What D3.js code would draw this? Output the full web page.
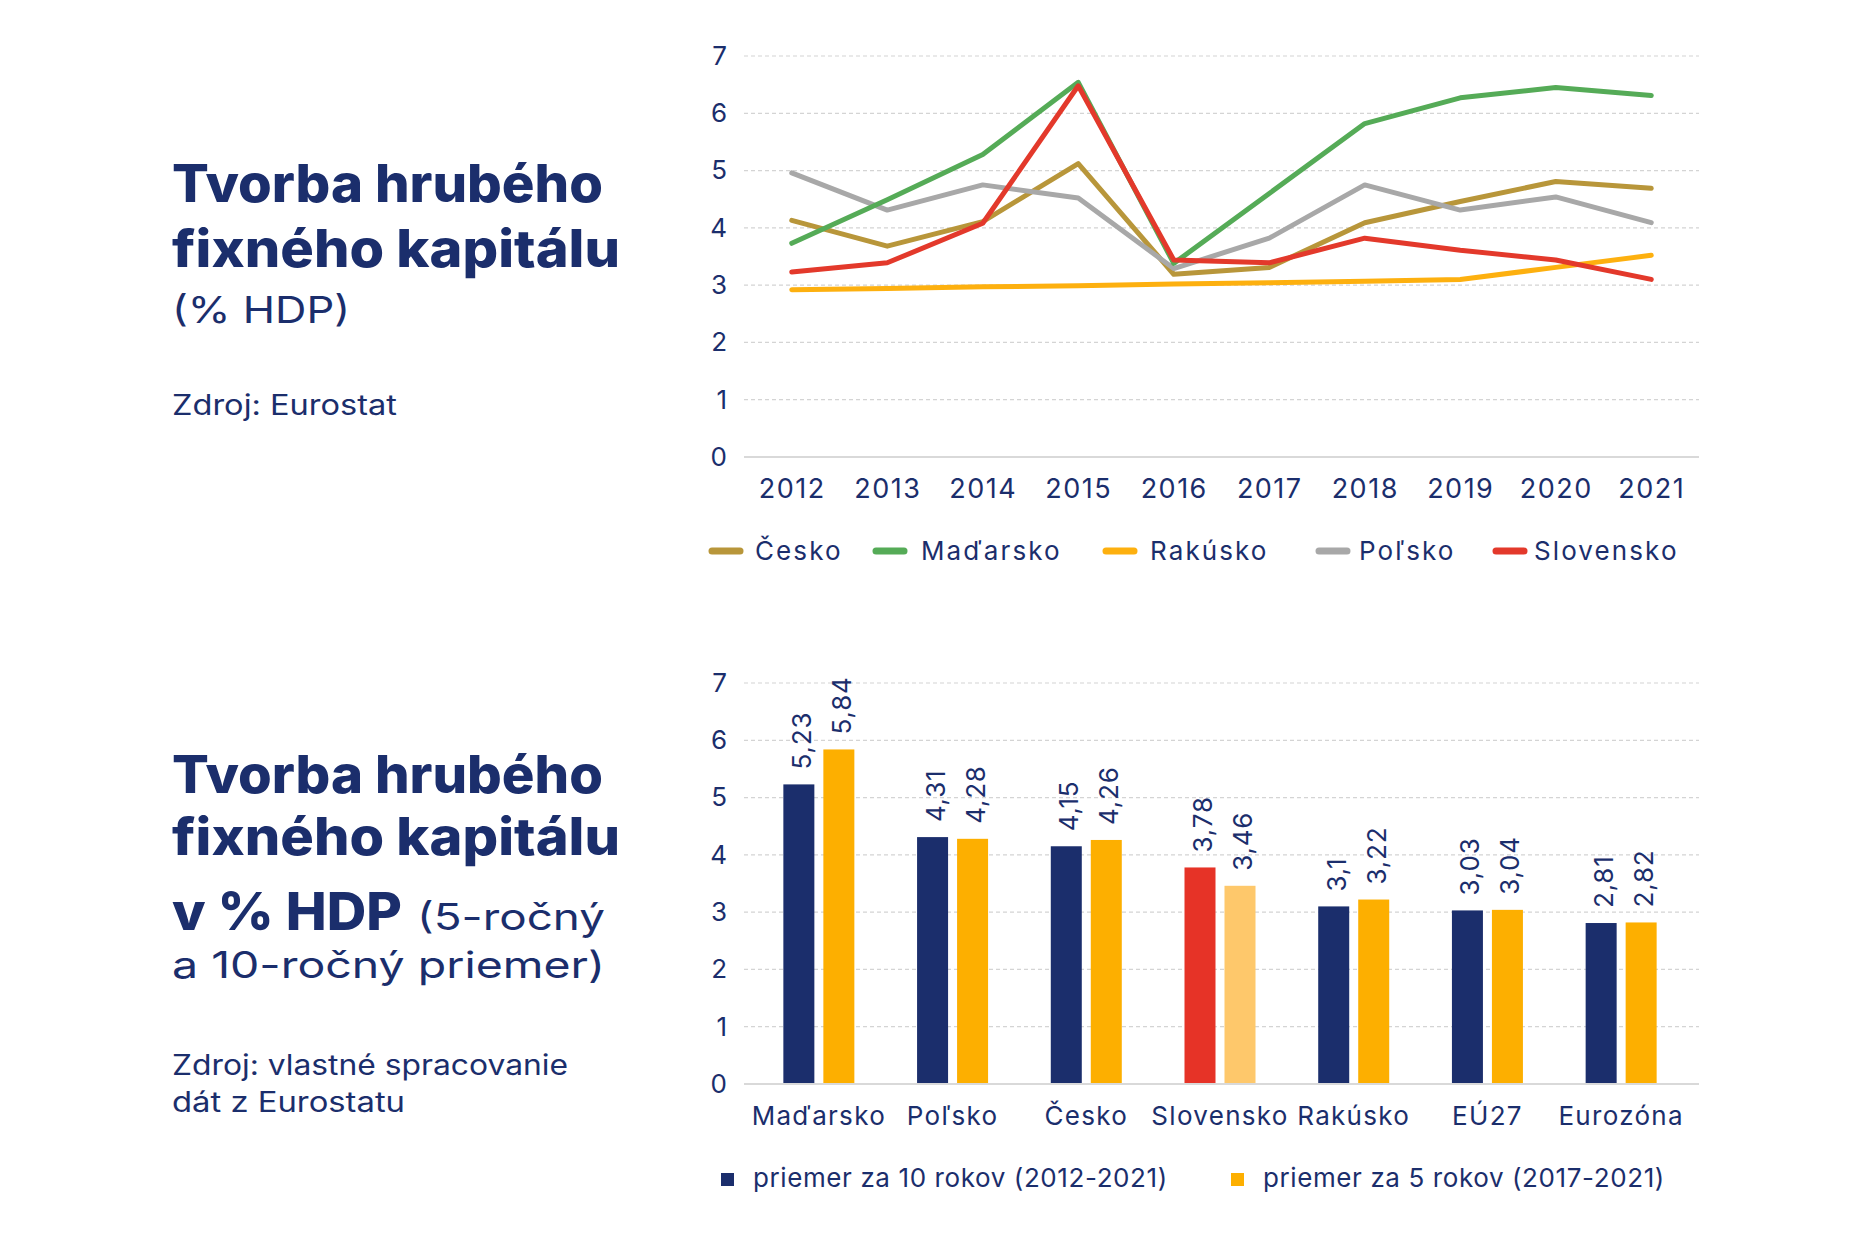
<!DOCTYPE html>
<html><head><meta charset="utf-8">
<script src="https://cdn.jsdelivr.net/npm/d3@7"></script>
<style>
html,body{margin:0;padding:0;background:#fff;}
svg text{font-family:Inter,"Open Sans",sans-serif;}
</style></head>
<body>
<svg id="c" width="1876" height="1251"></svg>
<script>
const years = [2012,2013,2014,2015,2016,2017,2018,2019,2020,2021];
const seriesNames = ["Česko","Maďarsko","Rakúsko","Poľsko","Slovensko"];
const cesko     = [4.13,3.68,4.11,5.12,3.19,3.31,4.09,4.46,4.81,4.69];
const madarsko  = [3.73,4.49,5.28,6.54,3.38,4.60,5.82,6.27,6.45,6.31];
const rakusko   = [2.92,2.94,2.97,2.99,3.02,3.04,3.07,3.10,3.31,3.52];
const polsko    = [4.96,4.31,4.75,4.52,3.29,3.82,4.75,4.31,4.54,4.09];
const slovensko = [3.23,3.39,4.08,6.48,3.44,3.39,3.82,3.61,3.44,3.10];
const lineColors = ["#b8963a","#55ab57","#fdb00f","#a8a8a8","#e3392b"];
const yTicks = [0,1,2,3,4,5,6,7];

const barCategories = ["Maďarsko","Poľsko","Česko","Slovensko","Rakúsko","EÚ27","Eurozóna"];
const avg10 = [5.23,4.31,4.15,3.78,3.10,3.03,2.81];
const avg5  = [5.84,4.28,4.26,3.46,3.22,3.04,2.82];
const avg10Labels = ["5,23","4,31","4,15","3,78","3,1","3,03","2,81"];
const avg5Labels  = ["5,84","4,28","4,26","3,46","3,22","3,04","2,82"];
const barSeriesNames = ["priemer za 10 rokov (2012-2021)","priemer za 5 rokov (2017-2021)"];

const NAVY = "#1b2e6c", ORANGE = "#fdaf00", RED = "#e63327", LIGHTOR = "#fec86b";
const TEXT = "#1b2e6c";

const svg = d3.select("#c");

// ---- left texts
const tl = svg.append("g").attr("fill", TEXT);
function line(txt, x, y, size, weight, len, adj){
  const t = tl.append("text").attr("x",x).attr("y",y).attr("font-size",size).attr("font-weight",weight).text(txt);
  if (len) t.attr("textLength",len).attr("lengthAdjust",adj||"spacingAndGlyphs");
  return t;
}
line("Tvorba hrubého",172,202,52,800,431);
line("fixného kapitálu",172,267,52,800,448);
line("(% HDP)",172,323,37,400,178);
line("Zdroj: Eurostat",172,415,28,400,225);

line("Tvorba hrubého",172,793,52,800,431);
line("fixného kapitálu",172,855,52,800,448);
line("v % HDP",172,930,52,800,230);
line("(5-ročný",417,930,37,400,188);
line("a 10-ročný priemer)",172,978,37,400,433);
line("Zdroj: vlastné spracovanie",172,1075,28,400,396);
line("dát z Eurostatu",172,1112,28,400,233);

// ---- line chart
const L = {left:744,right:1699,top:56,bottom:457};
const x1 = d3.scalePoint().domain(years).range([L.left,L.right]).padding(0.5);
const y1 = d3.scaleLinear().domain([0,7]).range([L.bottom,L.top]);
const g1 = svg.append("g");
g1.append("g").selectAll("line").data(yTicks.filter(d=>d>0)).join("line")
  .attr("x1",L.left).attr("x2",L.right).attr("y1",d=>y1(d)).attr("y2",d=>y1(d))
  .attr("stroke","#d4d4d4").attr("stroke-width",1.2).attr("stroke-dasharray","4,3");
g1.append("line").attr("x1",L.left).attr("x2",L.right).attr("y1",y1(0)).attr("y2",y1(0))
  .attr("stroke","#d9d9d9").attr("stroke-width",2);
const ya1 = g1.append("g").attr("transform",`translate(${L.left-14},0)`)
  .call(d3.axisLeft(y1).tickValues(yTicks).tickSize(0).tickFormat(d3.format("d")));
ya1.select(".domain").remove();
ya1.selectAll("text").attr("font-size",26).attr("fill",TEXT).attr("font-family","Inter,sans-serif");
const xa1 = g1.append("g").attr("transform",`translate(0,${L.bottom})`)
  .call(d3.axisBottom(x1).tickSize(0).tickFormat(d3.format("d")));
xa1.select(".domain").remove();
xa1.selectAll("text").attr("font-size",27).attr("fill",TEXT).attr("y",41).attr("dy",0)
  .attr("letter-spacing",1.5).attr("font-family","Inter,sans-serif");

const allSeries = [cesko,madarsko,rakusko,polsko,slovensko];
const lg = d3.line().x((d,i)=>x1(years[i])).y(d=>y1(d));
const drawOrder = [2,0,3,1,4];
g1.append("g").selectAll("path").data(drawOrder).join("path")
  .attr("d",k=>lg(allSeries[k])).attr("fill","none")
  .attr("stroke",k=>lineColors[k]).attr("stroke-width",5).attr("stroke-linejoin","round").attr("stroke-linecap","round");

// legend line chart
const legX = [709,873,1103,1316,1493];
const legTX = [755,921,1150,1359,1534];
const lgG = svg.append("g");
seriesNames.forEach((n,i)=>{
  lgG.append("line").attr("x1",legX[i]+3).attr("x2",legX[i]+31).attr("y1",551).attr("y2",551)
    .attr("stroke",lineColors[i]).attr("stroke-width",7).attr("stroke-linecap","round");
  lgG.append("text").attr("x",legTX[i]).attr("y",560).attr("font-size",26).attr("letter-spacing",2.1)
    .attr("fill",TEXT).text(n);
});

// ---- bar chart
const B = {left:744,right:1699,top:683,bottom:1084};
const x2 = d3.scaleBand().domain(barCategories).range([752,1688]);
const y2 = d3.scaleLinear().domain([0,7]).range([B.bottom,B.top]);
const g2 = svg.append("g");
g2.append("g").selectAll("line").data(yTicks.filter(d=>d>0)).join("line")
  .attr("x1",B.left).attr("x2",B.right).attr("y1",d=>y2(d)).attr("y2",d=>y2(d))
  .attr("stroke","#d4d4d4").attr("stroke-width",1.2).attr("stroke-dasharray","4,3");
const ya2 = g2.append("g").attr("transform",`translate(${B.left-14},0)`)
  .call(d3.axisLeft(y2).tickValues(yTicks).tickSize(0).tickFormat(d3.format("d")));
ya2.select(".domain").remove();
ya2.selectAll("text").attr("font-size",26).attr("fill",TEXT).attr("font-family","Inter,sans-serif");

const barW = 31, barGap = 9;
const rows = barCategories.map((c,i)=>({c,i,v:[avg10[i],avg5[i]],l:[avg10Labels[i],avg5Labels[i]]}));
const cg = g2.append("g").selectAll("g").data(rows).join("g")
  .attr("transform",d=>`translate(${x2(d.c)+x2.bandwidth()/2},0)`);
const bx = k => k===0 ? -(barW+barGap/2) : barGap/2;
cg.selectAll("rect").data(d=>d.v.map((v,k)=>({v,k,c:d.c}))).join("rect")
  .attr("x",d=>bx(d.k)).attr("width",barW)
  .attr("y",d=>y2(d.v)).attr("height",d=>y2(0)-y2(d.v))
  .attr("fill",d=>d.c==="Slovensko" ? (d.k===0?RED:LIGHTOR) : (d.k===0?NAVY:ORANGE));
cg.selectAll("text").data(d=>d.v.map((v,k)=>({v,k,l:d.l[k]}))).join("text")
  .attr("transform",d=>`translate(${bx(d.k)+barW/2+12},${y2(d.v)-15}) rotate(-90)`)
  .attr("font-size",26).attr("fill",TEXT).attr("letter-spacing",0.8).text(d=>d.l);
g2.append("line").attr("x1",B.left).attr("x2",B.right).attr("y1",y2(0)).attr("y2",y2(0))
  .attr("stroke","#d9d9d9").attr("stroke-width",2);
const xa2 = g2.append("g").attr("transform",`translate(0,${B.bottom})`).call(d3.axisBottom(x2).tickSize(0));
xa2.select(".domain").remove();
xa2.selectAll("text").attr("font-size",26).attr("fill",TEXT).attr("y",41).attr("dy",0)
  .attr("letter-spacing",1.3).attr("font-family","Inter,sans-serif");

// bar legend
const bl = svg.append("g");
const blX = [721,1231];
barSeriesNames.forEach((n,i)=>{
  bl.append("rect").attr("x",blX[i]).attr("y",1173).attr("width",13).attr("height",13).attr("fill",i===0?NAVY:ORANGE);
  bl.append("text").attr("x",blX[i]+32).attr("y",1187).attr("font-size",26).attr("letter-spacing",0.6)
    .attr("fill",TEXT).text(n);
});
</script>
</body></html>
